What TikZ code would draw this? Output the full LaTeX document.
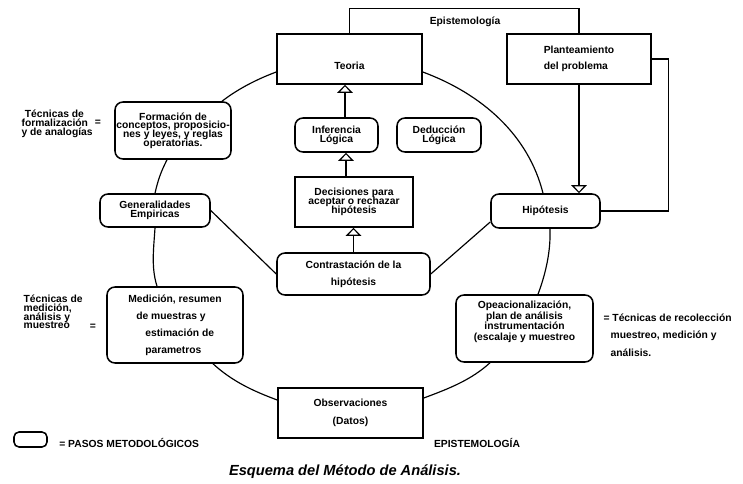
\documentclass[tikz,border=0pt]{standalone}
\usepackage{fontspec}
\setmainfont{Liberation Sans}
\usetikzlibrary{arrows.meta,positioning}
\newcommand\apretado{\lineskiplimit=-20pt\relax}

\begin{document}
\begin{tikzpicture}[x=0.03cm,y=-0.03cm,line width=1pt,
    every node/.style={font=\fontsize{8.8}{15}\selectfont\bfseries,inner sep=0pt},
    paso/.style={draw,rounded corners=2.4mm,line width=1.3pt,align=center},
    caja/.style={draw,line width=1.3pt,align=center},
    junto/.style={font=\fontsize{8.8}{7.5}\selectfont\bfseries\apretado},
    flecha/.style={-{Triangle[open,width=4.6mm,length=2.4mm]}}]
\useasboundingbox (0,0) rectangle (743,484);

\node[caja,minimum width=4.35cm,minimum height=1.5cm,text height=18pt] (teoria) at (349.5,59) {Teoria};
\node[caja,minimum width=4.32cm,minimum height=1.5cm,align=left,font=\fontsize{8.8}{13.6}\selectfont\bfseries] (plant) at (579,59) {Planteamiento\\del problema};
\node (epis) at (465,22) {Epistemología};
\node[paso,minimum width=3.27cm,minimum height=1.02cm] (hipo) at (545.5,211) {Hipótesis};

\node[paso,junto,minimum width=3.48cm,minimum height=1.71cm] (form) at (173,130.5) {Formación de\\conceptos, proposicio-\\nes y leyes, y reglas\\operatorias.};
\node[junto,align=left,anchor=west] (tform) at (21,124) {\hspace*{1mm}Técnicas de\\formalización\\y de analogías};
\node (igual1) at (98,123) {=};

\node[paso,junto,minimum width=2.49cm,minimum height=1.02cm] (infe) at (336.5,135) {Inferencia\\Lógica};
\node[paso,junto,minimum width=2.52cm,minimum height=1.02cm] (dedu) at (439,135) {Deducción\\Lógica};
\node[caja,junto,minimum width=3.54cm,minimum height=1.5cm] (deci) at (354,202) {Decisiones para\\aceptar o rechazar\\hipótesis};
\node[paso,minimum width=4.59cm,minimum height=1.26cm,font=\fontsize{8.8}{14.5}\selectfont\bfseries] (contr) at (353.5,274) {Contrastación de la\\hipótesis};
\node[paso,junto,minimum width=3.3cm,minimum height=0.99cm] (gene) at (155,210.5) {Generalidades\\Empiricas};

\node[paso,minimum width=4.08cm,minimum height=2.28cm,align=left,font=\fontsize{8.8}{14.5}\selectfont\bfseries] (medi) at (175,325) {Medición, resumen\\\hspace*{2.4mm}de muestras y\\\hspace*{5.1mm}estimación de\\\hspace*{5.1mm}parametros};
\node[junto,align=left,anchor=west] (tmedi) at (23,312) {Técnicas de\\medición,\\análisis y\\muestreo};
\node (igual2) at (93,327) {=};

\node[paso,minimum width=4.11cm,minimum height=2.01cm,font=\fontsize{8.8}{9}\selectfont\bfseries\apretado] (opea) at (524.5,328.5) {Opeacionalización,\\plan de análisis\\instrumentación\\(escalaje y muestreo\\[4pt]\mbox{}};
\node[align=left,anchor=west,font=\fontsize{8.8}{14.9}\selectfont\bfseries] (trec) at (603,335) {= Técnicas de recolección\\\hspace*{2.1mm}muestreo, medición y\\\hspace*{2.1mm}análisis.};

\node[caja,minimum width=4.35cm,minimum height=1.5cm,font=\fontsize{8.8}{15}\selectfont\bfseries] (obse) at (350.5,413) {Observaciones\\(Datos)};
\node (epis2) at (477,443) {EPISTEMOLOGÍA};
\node[paso,rounded corners=1.5mm,minimum width=0.99cm,minimum height=0.45cm] (leyenda) at (30.5,439.5) {};
\node[right=3.3mm of leyenda,yshift=-1mm] (tley) {= PASOS METODOLÓGICOS};
\node[font=\fontsize{12.5}{15}\selectfont\bfseries\itshape] (titulo) at (345,472) {Esquema del Método de Análisis.};

\draw (teoria.north) -- ++(0,-25) -| (plant.north);
\draw[flecha] (plant.south) -- (plant.south |- hipo.north);
\draw (plant.east) -- ++(17,0) |- (hipo.east);

\draw[flecha] (infe.north -| 345,0) -- (teoria.south -| 345,0);
\draw[flecha] (deci.north -| 346,0) -- (infe.south -| 346,0);
\draw[flecha] (contr.north) -- (contr.north |- deci.south);

\draw (gene.east) -- (contr.west);
\draw (contr.east) -- (hipo.west |- 0,222);

\draw (teoria.west |- 0,72) .. controls +(-19.3,7.2) and +(15.9,-12.3) .. (form.north -| 222,0);
\draw (form.south -| 167,0) .. controls +(-6.3,12.5) and +(3.1,-13.5) .. (gene.north);
\draw (gene.south) .. controls +(-1.2,20.2) and +(-6.1,-19.4) .. (medi.north -| 157,0);
\draw (medi.south -| 213,0) .. controls +(18.7,17.2) and +(-24.6,-9.1) .. (obse.west |- 0,400);
\draw (obse.east |- 0,398) .. controls +(24.6,-9.1) and +(-18.7,17.2) .. (opea.south -| 490,0);
\draw (opea.north -| 538,0) .. controls +(7.9,-21.1) and +(0.8,22.3) .. (hipo.south -| 550,0);
\draw (hipo.north -| 543,0) .. controls +(-14.5,-57.8) and +(59.9,22.2) .. (teoria.east |- 0,72);
\end{tikzpicture}
\end{document}
